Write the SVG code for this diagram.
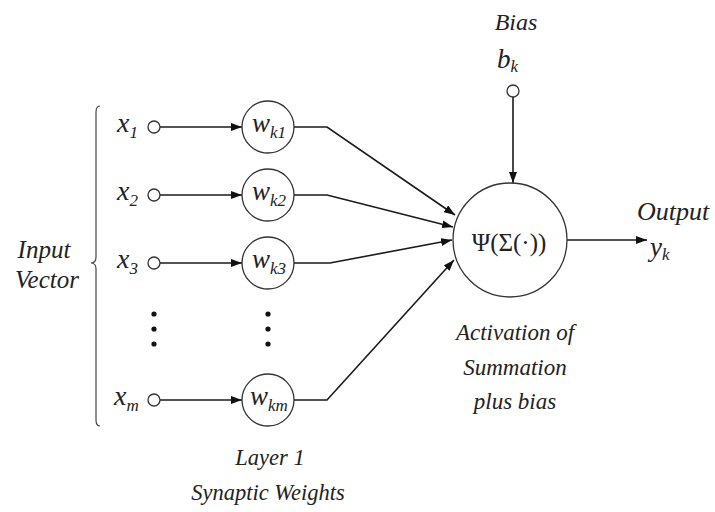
<svg xmlns="http://www.w3.org/2000/svg" width="715" height="512" viewBox="0 0 715 512">
<style>
.t{font-family:"Liberation Serif","DejaVu Serif","Times New Roman",serif;font-style:italic;fill:#222}
.u{font-family:"Liberation Serif","DejaVu Serif","Times New Roman",serif;fill:#222}
.n{fill:#fff;stroke:#333;stroke-width:1.3}
.e{fill:none;stroke:#1a1a1a;stroke-width:1.6}
.d{fill:#111}
</style>
<defs>
<marker id="ah" viewBox="0 0 11 8" refX="11" refY="4" markerWidth="11" markerHeight="8" markerUnits="userSpaceOnUse" orient="auto">
<path d="M0,0 L11,4 L0,8 z" fill="#111"/>
</marker>
</defs>
<rect width="715" height="512" fill="#fff"/>

<g id="input-vector">
<path d="M100,106 Q96,106 96,112 L96,257 Q96,263 91,263 Q96,263 96,269 L96,420 Q96,426 100,426" fill="none" stroke="#444" stroke-width="1.2"/>
<text class="t" x="44" y="258" font-size="25" text-anchor="middle">Input</text>
<text class="t" x="47" y="288" font-size="25" text-anchor="middle">Vector</text>
</g>

<g id="connectors">
<line class="e" x1="160" y1="127" x2="242" y2="127" marker-end="url(#ah)"/>
<line class="e" x1="160" y1="195" x2="242" y2="195" marker-end="url(#ah)"/>
<line class="e" x1="160" y1="263" x2="242" y2="263" marker-end="url(#ah)"/>
<line class="e" x1="160" y1="400" x2="242" y2="400" marker-end="url(#ah)"/>
<polyline class="e" points="294,127 327,127 455,215" marker-end="url(#ah)"/>
<polyline class="e" points="294,195 327,195 453,227" marker-end="url(#ah)"/>
<polyline class="e" points="294,263 330,263 452,240" marker-end="url(#ah)"/>
<polyline class="e" points="294,400 327,400 454,260" marker-end="url(#ah)"/>
<line class="e" x1="513" y1="97" x2="513" y2="183" marker-end="url(#ah)"/>
<line class="e" x1="567" y1="240" x2="647" y2="240" marker-end="url(#ah)"/>
</g>

<g id="x1">
<text class="t" x="117" y="132" font-size="28">x<tspan font-size="17" dy="6">1</tspan></text>
<circle class="n" cx="154" cy="127" r="6"/>
</g>
<g id="x2">
<text class="t" x="117" y="200" font-size="28">x<tspan font-size="17" dy="6">2</tspan></text>
<circle class="n" cx="154" cy="195" r="6"/>
</g>
<g id="x3">
<text class="t" x="117" y="268" font-size="28">x<tspan font-size="17" dy="6">3</tspan></text>
<circle class="n" cx="154" cy="263" r="6"/>
</g>
<g id="xm">
<text class="t" x="114" y="405" font-size="28">x<tspan font-size="17" dy="6">m</tspan></text>
<circle class="n" cx="154" cy="400" r="6"/>
</g>
<g id="dots-x">
<circle class="d" cx="154" cy="314" r="2.6"/>
<circle class="d" cx="154" cy="329" r="2.6"/>
<circle class="d" cx="154" cy="344" r="2.6"/>
</g>

<g id="wk1">
<circle class="n" cx="268" cy="127" r="26"/>
<text class="t" x="252" y="132" font-size="27">w<tspan font-size="17" dy="6">k1</tspan></text>
</g>
<g id="wk2">
<circle class="n" cx="268" cy="195" r="26"/>
<text class="t" x="252" y="200" font-size="27">w<tspan font-size="17" dy="6">k2</tspan></text>
</g>
<g id="wk3">
<circle class="n" cx="268" cy="263" r="26"/>
<text class="t" x="252" y="268" font-size="27">w<tspan font-size="17" dy="6">k3</tspan></text>
</g>
<g id="wkm">
<circle class="n" cx="268" cy="400" r="26"/>
<text class="t" x="250" y="405" font-size="27">w<tspan font-size="17" dy="6">km</tspan></text>
</g>
<g id="dots-w">
<circle class="d" cx="268" cy="314" r="2.6"/>
<circle class="d" cx="268" cy="329" r="2.6"/>
<circle class="d" cx="268" cy="344" r="2.6"/>
</g>

<g id="layer-label">
<text class="t" x="270" y="465" font-size="22.5" text-anchor="middle">Layer 1</text>
<text class="t" x="268" y="500" font-size="22.5" text-anchor="middle">Synaptic Weights</text>
</g>

<g id="bias">
<text class="t" x="516" y="30" font-size="24" text-anchor="middle">Bias</text>
<text class="t" x="497" y="68" font-size="27">b<tspan font-size="17" dy="4">k</tspan></text>
<circle class="n" cx="513" cy="91" r="6"/>
</g>

<g id="activation">
<circle class="n" cx="510" cy="240" r="57"/>
<text class="u" x="509" y="251" font-size="25" text-anchor="middle">Ψ(Σ(·))</text>
<text class="t" x="515" y="340" font-size="23" text-anchor="middle">Activation of</text>
<text class="t" x="515" y="375" font-size="23" text-anchor="middle">Summation</text>
<text class="t" x="515" y="409" font-size="23" text-anchor="middle">plus bias</text>
</g>

<g id="output">
<text class="t" x="673" y="220" font-size="26" text-anchor="middle">Output</text>
<text class="t" x="650" y="256" font-size="27">y<tspan font-size="17" dy="4">k</tspan></text>
</g>
</svg>
